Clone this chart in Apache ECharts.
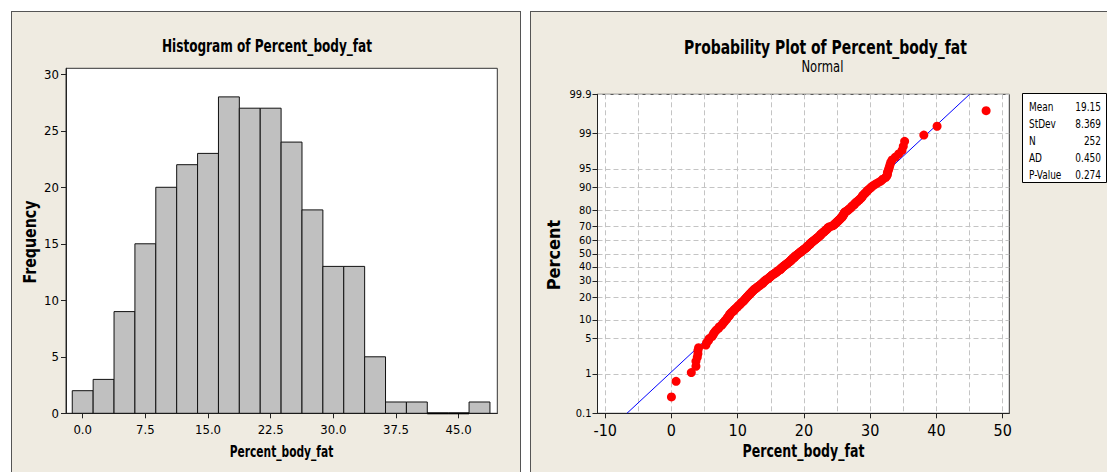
<!DOCTYPE html>
<html><head><meta charset="utf-8">
<script src="https://cdn.jsdelivr.net/npm/echarts@6/dist/echarts.min.js"></script>
<style>
html,body{margin:0;padding:0;background:#fff;}
#wrap{position:relative;width:1107px;height:472px;overflow:hidden;}
.panel{position:absolute;background:#EFEBE1;border:1px solid #555;box-sizing:border-box;}
#chart{position:absolute;left:0;top:0;width:1107px;height:472px;}
</style></head><body>
<div id="wrap">
<div class="panel" style="left:11px;top:11px;width:510px;height:480px"></div>
<div class="panel" style="left:530px;top:11px;width:600px;height:480px"></div>
<div id="chart"></div>
</div>
<script>
// ---------- data ----------
const binCenters = [0, 2.5, 5, 7.5, 10, 12.5, 15, 17.5, 20, 22.5, 25, 27.5, 30, 32.5, 35, 37.5, 40, 42.5, 45, 47.5];
const binCounts  = [2, 3, 9, 15, 20, 22, 23, 28, 27, 27, 24, 18, 13, 13, 5, 1, 1, 0, 0, 1];
const binWidth = 2.5;
const histXTicks = [0, 7.5, 15, 22.5, 30, 37.5, 45];
const histYTicks = [0, 5, 10, 15, 20, 25, 30];

// sorted Percent_body_fat values (n = 252)
const bodyFatSorted = [
  0.0, 0.7,
  3.0, 3.7, 3.7,
  3.9, 4.0, 4.0, 4.1, 5.2, 5.3, 5.6, 5.7, 6.1,
  6.3, 6.4, 6.6, 6.8, 7.1, 7.2, 7.5, 7.7, 7.8, 8.0, 8.1, 8.3, 8.4, 8.5, 8.7,
  8.8, 8.8, 9.0, 9.1, 9.4, 9.4, 9.6, 9.7, 9.9, 10.0, 10.1, 10.3, 10.4, 10.5, 10.6, 10.8, 10.9, 11.0, 11.1, 11.2,
  11.3, 11.4, 11.5, 11.6, 11.7, 11.8, 11.9, 12.0, 12.1, 12.2, 12.3, 12.4, 12.5, 12.6, 12.8, 12.9, 13.0, 13.1, 13.3, 13.4, 13.5, 13.6,
  13.8, 13.8, 13.9, 14.0, 14.1, 14.2, 14.3, 14.5, 14.6, 14.7, 14.8, 14.9, 15.0, 15.1, 15.2, 15.3, 15.4, 15.6, 15.7, 15.8, 15.9, 16.0, 16.1,
  16.3, 16.4, 16.5, 16.5, 16.6, 16.7, 16.8, 16.9, 17.0, 17.1, 17.2, 17.3, 17.4, 17.5, 17.6, 17.7, 17.8, 17.9, 18.0, 18.1, 18.1, 18.2, 18.3, 18.4, 18.5, 18.6, 18.6, 18.7,
  18.8, 18.9, 19.0, 19.1, 19.2, 19.3, 19.4, 19.5, 19.6, 19.7, 19.8, 19.9, 20.0, 20.1, 20.2, 20.3, 20.4, 20.5, 20.5, 20.6, 20.7, 20.8, 20.9, 21.0, 21.0, 21.1, 21.2,
  21.3, 21.4, 21.5, 21.6, 21.7, 21.8, 21.9, 22.0, 22.1, 22.2, 22.3, 22.4, 22.5, 22.5, 22.6, 22.7, 22.8, 22.9, 23.0, 23.1, 23.2, 23.3, 23.4, 23.5, 23.6, 23.6, 23.7,
  23.9, 24.2, 24.4, 24.5, 24.6, 24.7, 24.8, 24.9, 25.0, 25.1, 25.2, 25.3, 25.4, 25.5, 25.6, 25.7, 25.8, 25.8, 25.9, 26.0, 26.0, 26.1, 26.1, 26.2,
  26.4, 26.6, 26.7, 26.8, 27.0, 27.1, 27.2, 27.3, 27.5, 27.6, 27.7, 27.8, 28.0, 28.1, 28.3, 28.4, 28.6, 28.7,
  28.8, 28.9, 29.0, 29.2, 29.3, 29.5, 29.6, 29.8, 30.0, 30.2, 30.4, 30.7, 31.0,
  31.4, 31.7, 31.9, 32.3, 32.5, 32.6, 32.6, 32.7, 32.8, 32.9, 33.0, 33.1, 33.3,
  33.8, 34.3, 34.8, 35.0, 35.2,
  38.1, 40.1, 47.5
];
const probXTicks = [-10, 0, 10, 20, 30, 40, 50];
const probXGrid = [-10, -5, 0, 5, 10, 15, 20, 25, 30, 35, 40, 45, 50];
const pctTicks = [0.1, 1, 5, 10, 20, 30, 40, 50, 60, 70, 80, 90, 95, 99, 99.9];
const pctLabels = ['0.1', '1', '5', '10', '20', '30', '40', '50', '60', '70', '80', '90', '95', '99', '99.9'];
const statNames = ['Mean', 'StDev', 'N', 'AD', 'P-Value'];
const statValues = ['19.15', '8.369', '252', '0.450', '0.274'];
const meanVal = 19.15;
const sdVal = 8.369;

// ---------- helpers ----------
function invNorm(p) {
  const a = [-3.969683028665376e+01, 2.209460984245205e+02, -2.759285104469687e+02, 1.383577518672690e+02, -3.066479806614716e+01, 2.506628277459239e+00];
  const b = [-5.447609879822406e+01, 1.615858368580409e+02, -1.556989798598866e+02, 6.680131188771972e+01, -1.328068155288572e+01];
  const c = [-7.784894002430293e-03, -3.223964580411365e-01, -2.400758277161838e+00, -2.549732539343734e+00, 4.374664141464968e+00, 2.938163982698783e+00];
  const d = [7.784695709041462e-03, 3.224671290700398e-01, 2.445134137142996e+00, 3.754408661907416e+00];
  const pl = 0.02425, ph = 1 - pl;
  let q, r;
  if (p < pl) { q = Math.sqrt(-2 * Math.log(p)); return (((((c[0]*q+c[1])*q+c[2])*q+c[3])*q+c[4])*q+c[5]) / ((((d[0]*q+d[1])*q+d[2])*q+d[3])*q+1); }
  if (p <= ph) { q = p - 0.5; r = q*q; return (((((a[0]*r+a[1])*r+a[2])*r+a[3])*r+a[4])*r+a[5])*q / (((((b[0]*r+b[1])*r+b[2])*r+b[3])*r+b[4])*r+1); }
  q = Math.sqrt(-2 * Math.log(1 - p));
  return -(((((c[0]*q+c[1])*q+c[2])*q+c[3])*q+c[4])*q+c[5]) / ((((d[0]*q+d[1])*q+d[2])*q+d[3])*q+1);
}
const zTicks = pctTicks.map(p => invNorm(p / 100));
const zMin = zTicks[0] - 1e-7, zMax = zTicks[zTicks.length - 1] + 1e-7;
const nObs = bodyFatSorted.length;
// Minitab median-rank plotting positions
const probPoints = bodyFatSorted.map((v, i) => [v, invNorm((i + 1 - 0.3) / (nObs + 0.4))]);
const fitLine = [[meanVal + sdVal * zTicks[0], zTicks[0]], [meanVal + sdVal * zTicks[zTicks.length - 1], zTicks[zTicks.length - 1]]];

const FONT = "'DejaVu Sans Condensed','DejaVu Sans',sans-serif";
const AX = '#222';

const chart = echarts.init(document.getElementById('chart'), null, { renderer: 'svg' });

function txt(text, x, y, size, bold, sx, align, rot) {
  return { type: 'text', x: x, y: y, scaleX: sx, rotation: rot || 0, z: 50,
    style: { text: text, fontFamily: FONT, fontSize: size, fontWeight: bold ? 'bold' : 'normal', fill: '#000',
      textAlign: align || 'center', textVerticalAlign: 'middle', align: align || 'center', verticalAlign: 'middle' } };
}

const graphic = [
  txt('Histogram of Percent_body_fat', 267, 46, 17, true, 0.79),
  txt('Probability Plot of Percent_body_fat', 825.5, 47, 19, true, 0.815),
  txt('Normal', 822.4, 66.5, 15, false, 0.86),
  txt('Percent_body_fat', 281.5, 451.5, 15, true, 0.79),
  txt('Percent_body_fat', 803.5, 451.5, 17, true, 0.82),
  txt('Frequency', 30.5, 242, 17, true, 0.93, 'center', Math.PI / 2),
  txt('Percent', 553, 255, 18, true, 1.0, 'center', Math.PI / 2),
  { type: 'rect', z: 40, shape: { x: 1022.5, y: 93.5, width: 84, height: 89 }, style: { fill: '#fff', stroke: '#000', lineWidth: 1 } }
];
statNames.forEach((nm, i) => {
  const y = 107.5 + i * 17;
  graphic.push(txt(nm, 1029, y, 12, false, 0.83, 'left'));
  graphic.push(txt(statValues[i], 1101, y, 12, false, 0.83, 'right'));
});

const option = {
  animation: false,
  textStyle: { fontFamily: FONT },
  graphic: graphic,
  grid: [
    { left: 66, top: 68.3, right: 1107 - 497.3, bottom: 472 - 413.3, show: true, backgroundColor: '#fff', borderColor: '#333', borderWidth: 1, containLabel: false },
    { left: 597.5, top: 94.3, right: 1107 - 1009.3, bottom: 472 - 413.3, show: true, backgroundColor: '#fff', borderColor: '#333', borderWidth: 1, containLabel: false }
  ],
  xAxis: [
    { gridIndex: 0, type: 'value', position: 'bottom', min: -2.0, max: 49.63,
      axisLine: { show: true, onZero: false, lineStyle: { color: AX } },
      axisTick: { show: true, length: 5, customValues: histXTicks, lineStyle: { color: AX } },
      axisLabel: { customValues: histXTicks, formatter: v => Number(v).toFixed(1), fontSize: 13, margin: 10, color: '#000', fontFamily: FONT },
      splitLine: { show: false } },
    { gridIndex: 1, type: 'value', position: 'bottom', min: -11.16, max: 51.0,
      axisLine: { show: false, onZero: false }, axisLabel: { show: false },
      axisTick: { show: false, customValues: probXGrid },
      splitLine: { show: true, lineStyle: { color: '#C4C4C4', type: [5, 3], width: 1 } } },
    { gridIndex: 1, type: 'value', position: 'bottom', min: -11.16, max: 51.0,
      axisLine: { show: true, onZero: false, lineStyle: { color: AX } },
      axisTick: { show: true, length: 5, customValues: probXTicks, lineStyle: { color: AX } },
      axisLabel: { customValues: probXTicks, fontSize: 16, margin: 9, color: '#000', fontFamily: FONT },
      splitLine: { show: false } }
  ],
  yAxis: [
    { gridIndex: 0, type: 'value', min: 0, max: 30.53,
      axisLine: { show: true, onZero: false, lineStyle: { color: AX } },
      axisTick: { show: true, length: 5, customValues: histYTicks, lineStyle: { color: AX } },
      axisLabel: { customValues: histYTicks, fontSize: 13, margin: 7, color: '#000', fontFamily: FONT },
      splitLine: { show: false } },
    { gridIndex: 1, type: 'value', min: zMin, max: zMax,
      axisLine: { show: true, onZero: false, lineStyle: { color: AX } },
      axisTick: { show: true, length: 5, customValues: zTicks, lineStyle: { color: AX } },
      axisLabel: { customValues: zTicks, fontSize: 11, margin: 6, color: '#000', fontFamily: FONT,
        formatter: v => { let bi = 0, bd = 1e9; zTicks.forEach((z, i) => { const dd = Math.abs(z - v); if (dd < bd) { bd = dd; bi = i; } }); return pctLabels[bi]; } },
      splitLine: { show: true, lineStyle: { color: '#C4C4C4', type: [5, 3], width: 1 } } }
  ],
  series: [
    { type: 'custom', xAxisIndex: 0, yAxisIndex: 0,
      data: binCenters.map((c, i) => [c, binCounts[i]]),
      renderItem: function (params, api) {
        const c = api.value(0), n = api.value(1);
        const p0 = api.coord([c - binWidth / 2, n]);
        const p1 = api.coord([c + binWidth / 2, 0]);
        if (n === 0) {
          return { type: 'line', shape: { x1: p0[0], y1: p1[1], x2: p1[0], y2: p1[1] }, style: { stroke: '#000', lineWidth: 2 } };
        }
        return { type: 'rect', shape: { x: p0[0], y: p0[1], width: p1[0] - p0[0], height: p1[1] - p0[1] },
                 style: { fill: '#C0C0C0', stroke: '#111', lineWidth: 1 } };
      } },
    { type: 'line', xAxisIndex: 2, yAxisIndex: 1, data: fitLine, symbol: 'none', silent: true, z: 2,
      lineStyle: { color: '#0000FF', width: 1 }, clip: true },
    { type: 'scatter', xAxisIndex: 2, yAxisIndex: 1, data: probPoints, symbol: 'circle', symbolSize: 9, z: 5,
      itemStyle: { color: '#FF0000', opacity: 1 }, silent: true }
  ]
};
chart.setOption(option);
</script></body></html>
